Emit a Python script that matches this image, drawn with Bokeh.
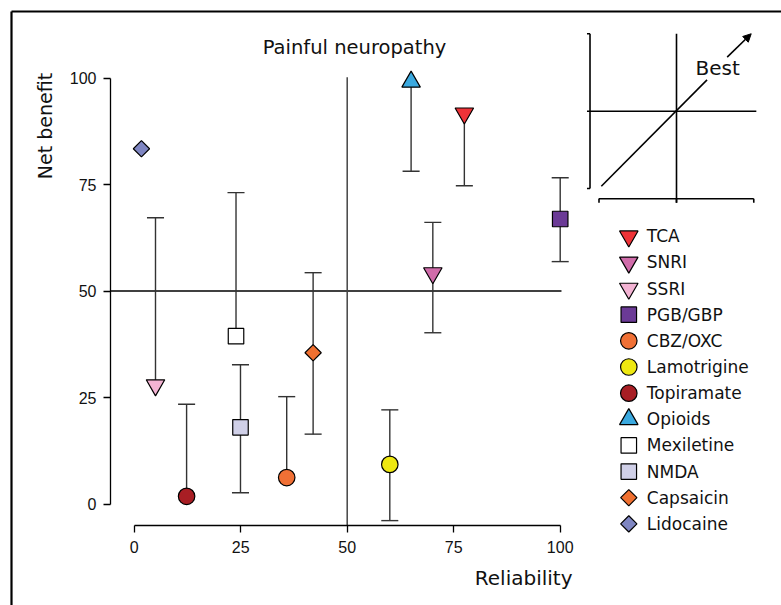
import math
from bokeh.plotting import figure
from bokeh.models import Range1d, LinearAxis, FixedTicker, Arrow, NormalHead
from bokeh.core.properties import value
from bokeh.embed import file_html
from bokeh.resources import INLINE

# ---------------- data ----------------
drugs = ["TCA", "SNRI", "SSRI", "PGB/GBP", "CBZ/OXC", "Lamotrigine", "Topiramate",
         "Opioids", "Mexiletine", "NMDA", "Capsaicin", "Lidocaine"]
reliability = [77.5, 70.1, 5.0, 100.0, 35.8, 60.0, 12.3, 65.0, 23.9, 24.95, 42.0, 1.7]
net_benefit = [91.7, 54.2, 27.9, 66.9, 6.2, 9.3, 1.8, 99.1, 39.4, 18.0, 35.5, 83.4]
lower_ci = [74.7, 40.2, None, 56.9, None, -3.9, None, 78.1, None, 2.65, 16.4, None]
upper_ci = [None, 66.1, 67.2, 76.6, 25.2, 22.1, 23.4, None, 73.1, 32.7, 54.3, None]
shapes = ["inverted_triangle", "inverted_triangle", "inverted_triangle", "square", "circle",
          "circle", "circle", "triangle", "square", "square", "diamond", "diamond"]
fills = ["#EE3338", "#D06CAA", "#F3B3D3", "#6B3A96", "#F07035", "#EEE811", "#A81E24",
         "#3BA9DF", "#FFFFFF", "#D0D0E8", "#F07030", "#7F86C2"]
x_ticks = [0, 25, 50, 75, 100]
y_ticks = [0, 25, 50, 75, 100]
title_text = "Painful neuropathy"
x_label = "Reliability"
y_label = "Net benefit"
inset_label = "Best"

# ---------------- layout constants ----------------
W, H = 781, 605
PX = 4.26                  # pixels per data unit
X0C, Y0C = 133.7, 503.5    # canvas pixel of data (0, 0)
AXIS_X = -5.56             # where the y axis sits (data x)
AXIS_Y = -5.05             # where the x axis sits (data y)
TXT = "DejaVu Sans"
NUM = "Liberation Sans"

def dx(px):   # canvas px -> data x
    return (px - X0C) / PX

def dy(py):   # canvas py -> data y
    return (Y0C - py) / PX

p = figure(width=W, height=H,
           x_range=Range1d(dx(0), dx(W)), y_range=Range1d(dy(H), dy(0)),
           x_axis_location=None, y_axis_location=None,
           min_border=0, toolbar_location=None, output_backend="svg",
           outline_line_color=None, background_fill_color="white",
           border_fill_color="white")
for g in p.grid:
    g.visible = False

# outer border (top and left visible)
p.segment(x0=[dx(11), dx(11)], y0=[dy(11), dy(11)], x1=[dx(W + 20), dx(11)], y1=[dy(11), dy(H + 20)],
          line_color="black", line_width=2.2)

# axes
common = dict(bounds=(0, 100), major_tick_in=0, major_tick_out=7,
              minor_tick_in=0, minor_tick_out=0,
              axis_line_width=1.3, axis_line_color="black",
              major_tick_line_width=1.3, major_tick_line_color="black",
              major_label_text_font=NUM, major_label_text_font_size="16px",
              major_label_text_color="#111111")
yaxis = LinearAxis(fixed_location=AXIS_X, ticker=FixedTicker(ticks=y_ticks),
                   major_label_standoff=7, **common)
xaxis = LinearAxis(fixed_location=AXIS_Y, ticker=FixedTicker(ticks=x_ticks),
                   major_label_standoff=8, **common)
p.add_layout(yaxis, "left")
p.add_layout(xaxis, "below")

# quadrant reference lines
p.segment(x0=[AXIS_X], y0=[50], x1=[100.3], y1=[50], line_color="black", line_width=1.3)
p.segment(x0=[50], y0=[AXIS_Y], x1=[50], y1=[100.2], line_color="#444444", line_width=1.5)

# error bars
CAP = 2.0
sx0, sy0, sx1, sy1 = [], [], [], []
cx0, cy0, cx1, cy1 = [], [], [], []
for x, y, lo, hi in zip(reliability, net_benefit, lower_ci, upper_ci):
    for end in (lo, hi):
        if end is None:
            continue
        sx0.append(x); sy0.append(y); sx1.append(x); sy1.append(end)
        cx0.append(x - CAP); cy0.append(end); cx1.append(x + CAP); cy1.append(end)
p.segment(x0=sx0, y0=sy0, x1=sx1, y1=sy1, line_color="#333333", line_width=1.4)
p.segment(x0=cx0, y0=cy0, x1=cx1, y1=cy1, line_color="#333333", line_width=1.4)

# marker styles
size_of = {"inverted_triangle": 18.5, "triangle": 18.5, "square": 15.5, "circle": 16.5, "diamond": 11.5}

def draw_markers(xs, ys, kinds, cols):
    for kind in sorted(set(kinds)):
        idx = [i for i, k in enumerate(kinds) if k == kind]
        mk = "square" if kind == "diamond" else kind
        ang = math.pi / 4 if kind == "diamond" else 0.0
        p.scatter(x=[xs[i] for i in idx], y=[ys[i] for i in idx], marker=mk,
                  size=size_of[kind], angle=ang,
                  fill_color=[cols[i] for i in idx], line_color="black", line_width=1.2)

draw_markers(reliability, net_benefit, shapes, fills)

# legend (manual, to keep large symbols)
LEG_MX, LEG_TX = dx(628.3), dx(646.3)
leg_y = [dy(235.8 + 26.14 * i) for i in range(len(drugs))]
draw_markers([LEG_MX] * len(drugs), leg_y, shapes, fills)
p.text(x=[LEG_TX] * len(drugs), y=leg_y, text=drugs, text_font=value(TXT),
       text_font_size="17px", text_align="left", text_baseline="middle",
       text_color="#111111")

# title and axis labels
p.text(x=[dx(354)], y=[dy(46.7)], text=[title_text], text_font=value(TXT),
       text_font_size="19.5px", text_align="center", text_baseline="middle",
       text_color="#111111")
p.text(x=[dx(572)], y=[dy(577.5)], text=[x_label], text_font=value(TXT),
       text_font_size="20px", text_align="right", text_baseline="middle",
       text_color="#111111")
p.text(x=[dx(44)], y=[dy(125.5)], text=[y_label], text_font=value(TXT),
       text_font_size="19px", text_align="center", text_baseline="middle",
       angle=math.pi / 2, text_color="#111111")

# inset schematic ("Best" direction)
ICX, ICY, IH = dx(676), dy(110.7), 77.5 / PX

def ix(u):
    return ICX + IH * u

def iy(v):
    return ICY + IH * v

inset_segs = [
    (-1.116, 1.0, -1.116, -0.997),
    (-1.155, 1.0, -1.116, 1.0),
    (-1.155, -0.997, -1.116, -0.997),
    (-1.003, -1.13, 0.997, -1.13),
    (-1.0, -1.13, -1.0, -1.18),
    (0.0, -1.13, 0.0, -1.18),
    (0.997, -1.13, 0.997, -1.18),
    (0.0, 1.0, 0.0, -1.18),
    (-1.155, 0.0, 1.03, 0.0),
    (-0.97, -0.968, 0.394, 0.405),
]
p.segment(x0=[ix(s[0]) for s in inset_segs], y0=[iy(s[1]) for s in inset_segs],
          x1=[ix(s[2]) for s in inset_segs], y1=[iy(s[3]) for s in inset_segs],
          line_color="black", line_width=1.6)
p.add_layout(Arrow(end=NormalHead(size=8, fill_color="black", line_color="black", line_width=1),
                   x_start=ix(0.654), y_start=iy(0.697), x_end=ix(0.964), y_end=iy(0.999),
                   line_color="black", line_width=1.6))
p.text(x=[ix(0.245)], y=[iy((110.7 - 67.2) / 77.5)], text=[inset_label], text_font=value(TXT),
       text_font_size="20px", text_align="left", text_baseline="middle",
       text_color="#111111")

open("out.html", "w").write(file_html(p, INLINE))
